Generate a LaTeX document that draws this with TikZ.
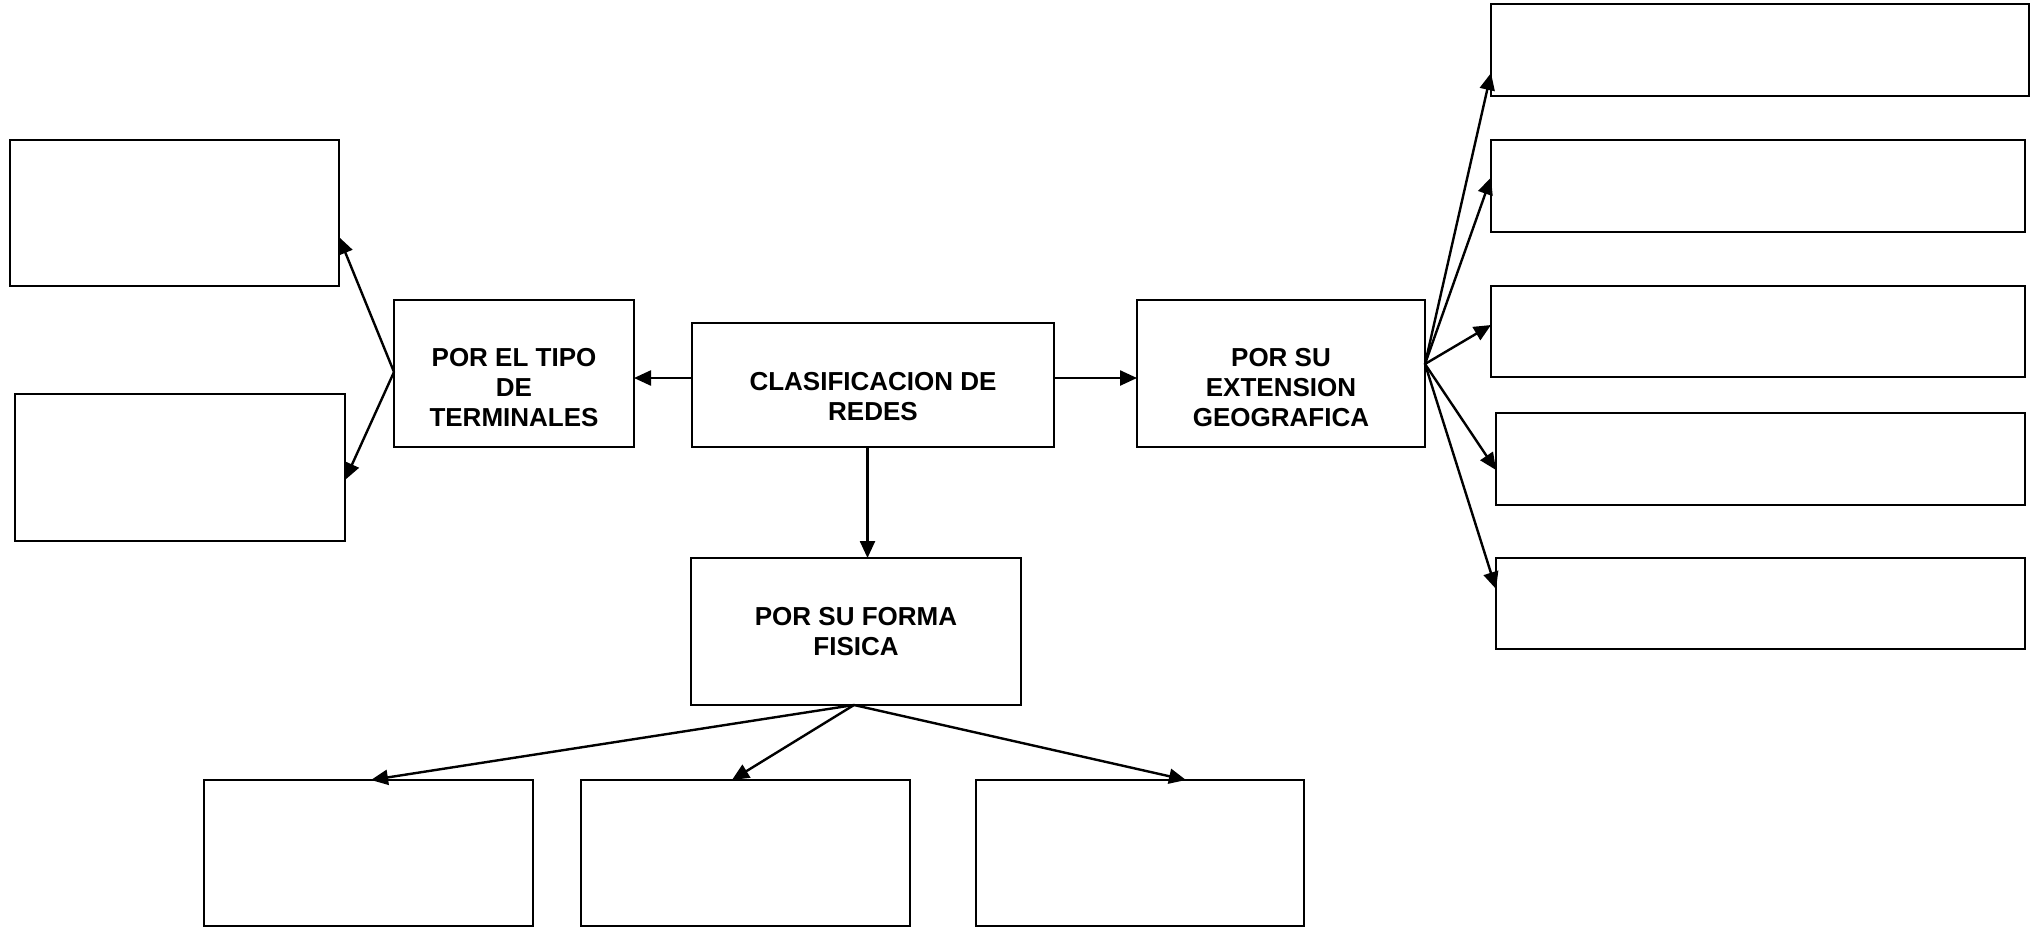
\documentclass[tikz,border=0pt]{standalone}
\usepackage{fontspec}
\setmainfont{Liberation Sans}
\usetikzlibrary{arrows.meta}
\tikzset{
  box/.style={draw=black, line width=2.2pt, rectangle, outer sep=0pt, inner sep=0pt, fill=white},
  lbl/.style={align=center, font=\fontsize{26}{30}\selectfont\bfseries, inner sep=0pt},
  arr/.style={line width=2.4pt, -{Triangle[length=17pt,width=15pt]}}
}
\begin{document}
\begin{tikzpicture}[x=1pt,y=-1pt]
\useasboundingbox (0,0) rectangle (2040,927);
% boxes
\node[box, minimum width=329pt, minimum height=146pt] (tl1) at (174.5,213) {};
\node[box, minimum width=330pt, minimum height=147pt] (tl2) at (180,467.5) {};
\node[box, minimum width=240pt, minimum height=147pt] (term) at (514,373.5) {};
\node[box, minimum width=362pt, minimum height=124pt] (cent) at (873,385) {};
\node[box, minimum width=288pt, minimum height=147pt] (ext) at (1281,373.5) {};
\node[box, minimum width=330pt, minimum height=147pt] (forma) at (856,631.5) {};
\node[box, minimum width=538pt, minimum height=92pt] (r1) at (1760,50) {};
\node[box, minimum width=534pt, minimum height=92pt] (r2) at (1758,186) {};
\node[box, minimum width=534pt, minimum height=91pt] (r3) at (1758,331.5) {};
\node[box, minimum width=529pt, minimum height=92pt] (r4) at (1760.5,459) {};
\node[box, minimum width=529pt, minimum height=91pt] (r5) at (1760.5,603.5) {};
\node[box, minimum width=329pt, minimum height=146pt] (b1) at (368.5,853) {};
\node[box, minimum width=329pt, minimum height=146pt] (b2) at (745.5,853) {};
\node[box, minimum width=328pt, minimum height=146pt] (b3) at (1140,853) {};
% labels
\node[lbl] (tterm) at (514,388) {POR EL TIPO\\DE\\TERMINALES};
\node[lbl] (tcent) at (873,397) {CLASIFICACION DE\\REDES};
\node[lbl] (text) at (1281,388) {POR SU\\EXTENSION\\GEOGRAFICA};
\node[lbl] (tforma) at (856,631.7) {POR SU FORMA\\FISICA};
% connectors from central
\draw[arr] ([yshift=7pt]cent.west) coordinate (cw) -- (cw -| term.east);
\draw[arr] ([yshift=7pt]cent.east) coordinate (ce) -- (ce -| ext.west);
\draw[arr] ([xshift=-5.5pt]cent.south) coordinate (cs) -- (cs |- forma.north);
% terminals
\draw[arr] ([yshift=1.5pt]term.west) -- ([yshift=-24pt]tl1.east);
\draw[arr] ([yshift=1.5pt]term.west) -- ([yshift=-12.5pt]tl2.east);
% extension
\draw[arr] ([yshift=9.5pt]ext.east) -- ([yshift=-23pt]r1.west);
\draw[arr] ([yshift=9.5pt]ext.east) -- ([yshift=8.5pt]r2.west);
\draw[arr] ([yshift=9.5pt]ext.east) -- ([yshift=6.5pt]r3.west);
\draw[arr] ([yshift=9.5pt]ext.east) -- ([yshift=-11pt]r4.west);
\draw[arr] ([yshift=9.5pt]ext.east) -- ([yshift=14.5pt]r5.west);
% forma
\draw[arr] ([xshift=-2pt]forma.south) -- ([xshift=2.5pt]b1.north);
\draw[arr] ([xshift=-2pt]forma.south) -- ([xshift=-13.5pt]b2.north);
\draw[arr] ([xshift=-2pt]forma.south) -- ([xshift=46pt]b3.north);
\end{tikzpicture}
\end{document}
